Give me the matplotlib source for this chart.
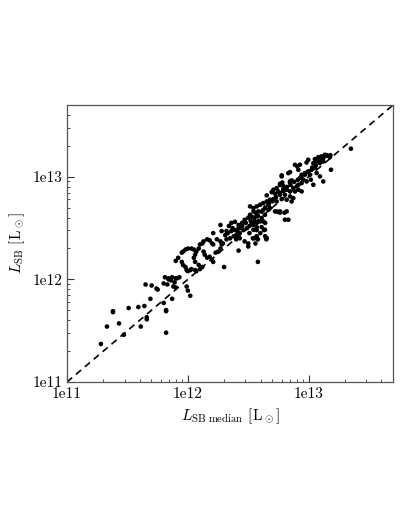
import numpy as np
import matplotlib
matplotlib.use("Agg")
import matplotlib.pyplot as plt
from matplotlib.ticker import FixedLocator, FixedFormatter, LogLocator, NullFormatter

plt.rcParams['font.family'] = 'serif'
plt.rcParams['font.serif'] = ['cmr10', 'DejaVu Serif']
plt.rcParams['mathtext.fontset'] = 'cm'
plt.rcParams['axes.unicode_minus'] = False

# log10 of luminosities: (median, individual)
log_lower = [
    (11.28, 11.37), (11.33, 11.54), (11.38, 11.68), (11.38, 11.69), (11.43, 11.57),
    (11.47, 11.46), (11.51, 11.72), (11.59, 11.73), (11.61, 11.54), (11.64, 11.74),
    (11.65, 11.95), (11.66, 11.61), (11.66, 11.63), (11.69, 11.81), (11.70, 11.94),
    (11.74, 11.91), (11.75, 11.90), (11.80, 11.77), (11.80, 11.96), (11.82, 11.70),
    (11.82, 11.69), (11.82, 11.48), (11.84, 12.01), (11.86, 11.99), (11.87, 11.81),
    (11.88, 11.93), (11.89, 11.97), (11.91, 12.01), (11.93, 12.02), (11.99, 11.93),
    (12.00, 11.89), (12.02, 11.84),
]
log_loop = [
    (11.81, 12.02), (11.84, 12.00), (11.87, 12.02), (11.90, 12.01), (11.83, 11.95),
    (11.90, 11.92), (11.90, 12.18), (11.92, 12.21), (11.95, 12.26), (11.96, 12.27),
    (11.98, 12.29), (12.00, 12.30), (12.03, 12.30), (12.05, 12.29), (11.95, 12.17),
    (11.96, 12.14), (11.98, 12.12), (11.99, 12.09), (12.00, 12.08), (12.02, 12.09),
    (12.03, 12.10), (12.06, 12.09), (12.07, 12.08), (12.10, 12.10), (12.12, 12.12),
    (12.09, 12.14), (12.06, 12.17), (12.05, 12.21), (12.06, 12.24), (12.07, 12.27),
    (12.09, 12.30), (12.10, 12.34), (12.12, 12.35), (12.13, 12.37), (12.16, 12.39),
    (12.18, 12.38), (12.20, 12.35), (12.21, 12.34), (12.13, 12.27), (12.14, 12.24),
    (12.16, 12.21), (12.18, 12.22), (12.20, 12.19), (12.21, 12.17), (12.23, 12.26),
    (12.25, 12.27), (12.27, 12.30), (12.28, 12.34), (12.27, 12.37), (12.24, 12.39),
    (12.31, 12.43), (12.32, 12.47), (12.34, 12.52), (12.36, 12.55), (12.39, 12.56),
    (12.42, 12.53), (12.45, 12.55), (12.47, 12.58), (12.50, 12.60), (12.53, 12.61),
    (12.56, 12.65), (12.29, 12.35), (12.32, 12.39), (12.35, 12.40), (12.38, 12.42),
    (12.40, 12.43), (12.43, 12.45), (12.46, 12.48), (12.49, 12.50), (12.51, 12.52),
    (12.54, 12.53), (12.57, 12.55), (12.36, 12.47), (12.39, 12.48), (12.42, 12.50),
    (12.45, 12.52), (12.40, 12.39), (12.43, 12.40), (12.47, 12.37), (12.50, 12.35),
    (12.54, 12.40), (12.56, 12.35), (12.58, 12.39), (12.65, 12.39), (12.42, 12.28),
    (12.30, 12.12), (12.58, 12.17), (12.27, 12.53), (12.28, 12.47), (12.21, 12.45),
    (12.50, 12.32), (12.60, 12.45), (12.63, 12.48), (12.57, 12.42), (12.51, 12.45),
]
log_band = [
    (12.887, 13.116), (12.906, 13.100), (12.832, 13.035), (12.846, 13.045),
    (12.777, 13.003), (12.763, 12.931), (12.782, 12.944), (12.846, 12.944),
    (12.859, 12.964), (12.708, 12.873), (12.735, 12.889), (12.749, 12.857),
    (12.791, 12.879), (12.818, 12.873), (12.846, 12.857), (12.873, 12.889),
    (12.804, 12.824), (12.763, 12.824), (12.722, 12.834), (12.846, 12.808),
    (12.873, 12.792), (12.680, 12.776), (12.708, 12.782), (12.653, 12.759),
    (12.625, 12.743), (12.667, 12.727), (12.735, 12.759), (12.777, 12.782),
    (12.818, 12.776), (12.859, 12.759), (12.598, 12.727), (12.570, 12.711),
    (12.543, 12.694), (12.515, 12.711), (12.625, 12.678), (12.584, 12.662),
    (12.543, 12.662), (12.667, 12.678), (12.680, 12.694), (12.722, 12.662),
    (12.763, 12.662), (12.818, 12.662), (12.515, 12.629), (12.570, 12.613),
    (12.639, 12.629), (12.611, 12.597), (12.556, 12.564), (12.529, 12.548),
    (12.598, 12.564), (12.625, 12.564), (12.804, 12.581), (12.832, 12.581),
    (12.570, 12.509), (12.543, 12.483), (12.639, 12.483), (12.611, 12.509),
    (12.653, 12.402), (12.556, 12.402),
    (12.777, 13.013), (12.763, 12.919), (12.790, 12.910), (12.846, 12.955),
    (12.694, 12.850), (12.653, 12.818), (12.763, 12.650), (12.800, 12.650),
    (12.740, 12.660), (12.640, 12.550), (12.570, 12.480), (12.540, 12.400),
    (12.640, 12.420),
]
log_ridge = [
    (12.33, 12.45), (12.37, 12.50), (12.41, 12.47), (12.44, 12.50), (12.48, 12.55),
    (12.52, 12.57), (12.55, 12.60), (12.58, 12.62), (12.61, 12.66), (12.64, 12.70),
    (12.67, 12.74), (12.70, 12.76), (12.73, 12.80), (12.76, 12.84), (12.79, 12.86),
    (12.82, 12.90), (12.85, 12.92), (12.88, 12.95), (12.91, 12.97), (12.94, 13.00),
    (12.97, 13.02), (13.00, 13.05), (13.03, 13.09), (13.06, 13.11), (13.09, 13.16),
    (13.12, 13.18), (13.15, 13.21), (13.18, 13.21),
]
log_upper = [
    (13.350, 13.273), (13.135, 13.214), (13.154, 13.204), (13.176, 13.191),
    (13.121, 13.182), (13.107, 13.198), (13.080, 13.191), (13.052, 13.172),
    (13.066, 13.149), (13.039, 13.133), (13.094, 13.133), (13.121, 13.149),
    (13.052, 13.084), (13.025, 13.068), (12.997, 13.052), (13.011, 13.019),
    (12.970, 13.036), (12.942, 13.019), (12.928, 12.987), (12.956, 12.971),
    (12.983, 12.954), (12.942, 12.938), (12.915, 12.922), (12.901, 12.906),
    (12.997, 13.165), (12.983, 13.139), (12.928, 13.117), (12.915, 13.068),
    (13.019, 12.971), (13.039, 12.922), (13.121, 12.954), (13.185, 13.068),
    (13.066, 13.036), (13.094, 13.003), (12.887, 12.857), (12.915, 12.873),
    (12.942, 12.857),
]

pts = np.array(log_lower + log_loop + log_band + log_ridge + log_upper)
L_median = 10 ** pts[:, 0]
L_sb = 10 ** pts[:, 1]

lim = [1e11, 5e13]
tick_vals = [1e11, 1e12, 1e13]
tick_labels = ['1e11', '1e12', '1e13']

fig = plt.figure(figsize=(4.09, 5.29), dpi=100)
ax = fig.add_axes([0.164, 0.278, 0.797, 0.5235])
ax.plot(lim, lim, ls=(0, (4, 3)), color='black', lw=1.2, zorder=1)
ax.scatter(L_median, L_sb, s=11, color='black', edgecolors='none', zorder=2)
ax.set_xscale('log')
ax.set_yscale('log')
ax.set_xlim(lim)
ax.set_ylim(lim)
for axis in (ax.xaxis, ax.yaxis):
    axis.set_major_locator(FixedLocator(tick_vals))
    axis.set_major_formatter(FixedFormatter(tick_labels))
    axis.set_minor_locator(LogLocator(base=10, subs=np.arange(2, 10)))
    axis.set_minor_formatter(NullFormatter())
ax.tick_params(which='both', direction='in', top=False, right=False,
               labelsize=11, color='#333333')
ax.tick_params(which='major', length=5, width=0.8)
ax.tick_params(which='minor', length=2.5, width=0.6)
for sp in ax.spines.values():
    sp.set_color('#555555')
    sp.set_linewidth(0.9)
ax.set_xlabel(r'$L_{\rm SB\ median}$ [L$_\odot$]', fontsize=11)
ax.set_ylabel(r'$L_{\rm SB}$ [L$_\odot$]', fontsize=11)
fig.savefig('out.png', dpi=100)
